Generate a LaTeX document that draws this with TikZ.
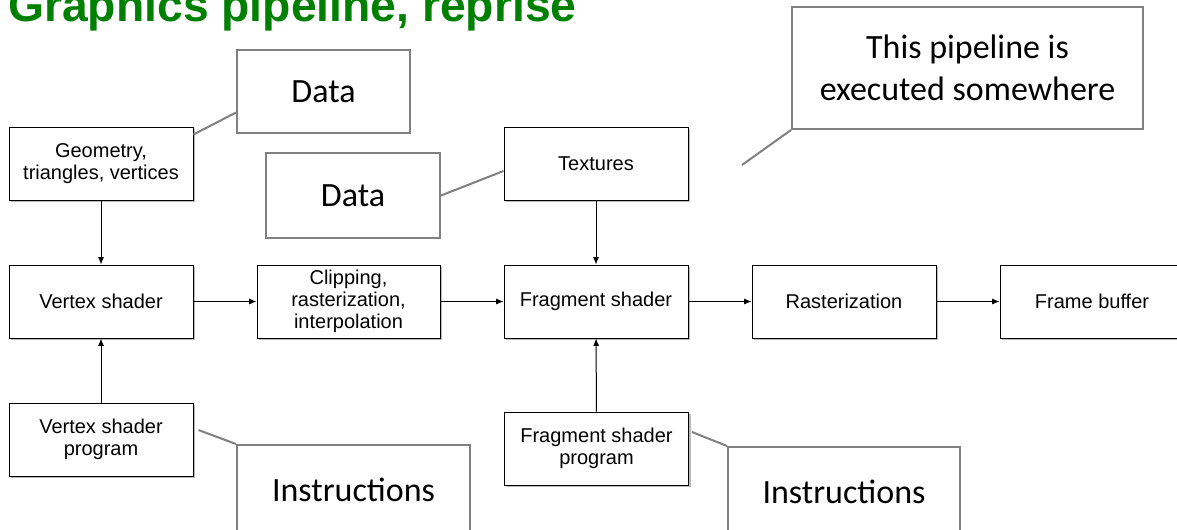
\documentclass[tikz,border=0pt]{standalone}
\usepackage{fontspec}
\setmainfont{Liberation Sans}
\newfontfamily\notefont{Carlito}
\usetikzlibrary{arrows.meta,shadows,calc}
\definecolor{notegray}{RGB}{128,128,128}
\definecolor{titlegreen}{RGB}{0,128,0}

\begin{document}
\begin{tikzpicture}[x=0.75pt,y=0.75pt,yscale=-1,xscale=1,
        block/.style={draw=black,line width=0.75pt,fill=white,inner sep=0pt,align=center,
            minimum width=138pt,minimum height=54.75pt,font=\fontsize{15}{16.5}\selectfont,
            drop shadow={shadow xshift=1.6pt,shadow yshift=-1.6pt,opacity=0.45,fill=black!60}},
        note/.style={draw=notegray,line width=1.5pt,fill=white,inner sep=0pt,align=center,
            font=\notefont\fontsize{25.5}{31.5}\selectfont},
        link/.style={draw=notegray,line width=1.5pt},
        flow/.style={-{Latex[length=5.5pt,width=4.5pt]},line width=0.75pt}]
        \useasboundingbox (0,0) rectangle (1177,529);

        % Title
        \node [anchor=base west,inner sep=0pt,text=titlegreen,font=\bfseries\fontsize{34.7}{40}\selectfont] (title) at (8,21) {Graphics pipeline, reprise};

        % Pipeline blocks
        \node [block] (geom) at (101,163.5) {Geometry,\\triangles, vertices};
        \node [block] (vs) at (101,301.5) {Vertex shader};
        \node [block,minimum width=137.25pt] (clip) at (348.5,301.5) {Clipping,\\rasterization,\\interpolation};
        \node [block] (tex) at (596,163.5) {Textures};
        \node [block] (frag) at (596,301.5) {Fragment shader};
        \node [block] (rast) at (844,301.5) {Rasterization};
        \node [block] (fb) at (1092,301.5) {Frame buffer};
        \node [block] (vsp) at (101,439.5) {Vertex shader\\program};
        \node [block] (fsp) at (596.5,448.5) {Fragment shader\\program};

        % Arrows
        \draw [flow] (geom) -- (vs);
        \draw [flow] (tex) -- (frag);
        \draw [flow] (vsp) -- (vs);
        \draw [flow] (fsp) -- (frag);
        \draw [flow] (vs) -- (clip);
        \draw [flow] (clip) -- (frag);
        \draw [flow] (frag) -- (rast);
        \draw [flow] (rast) -- (fb);

        % Callouts
        \node [note,minimum width=129.75pt,minimum height=62.25pt] (data1) at (323.5,91.5) {Data};
        \node [note,minimum width=130.5pt,minimum height=63.75pt] (data2) at (353,195.5) {Data};
        \node [note,minimum width=263.25pt,minimum height=91.5pt] (where) at (967.5,68) {This pipeline is\\executed somewhere};
        \node [note,minimum width=174.75pt,minimum height=67.5pt] (instr1) at (353.5,490) {Instructions};
        \node [note,minimum width=174pt,minimum height=67.5pt] (instr2) at (844,492) {Instructions};

        % Callout lines
        \coordinate (pointer) at (742,165);
        \draw [link] ($(data1.west)+(0,21)$) -- ($(geom.north east)+(0,8)$);
        \draw [link] (data2.east) -- ($(tex.west)+(0,7.5)$);
        \draw [link] (where.south west) -- (pointer);
        \draw [link] (instr1.north west) -- ($(vsp.east)+(5,-9.5)$);
        \draw [link] (instr2.north west) -- ($(fsp.east)+(3,-16.5)$);

\end{tikzpicture}
\end{document}
